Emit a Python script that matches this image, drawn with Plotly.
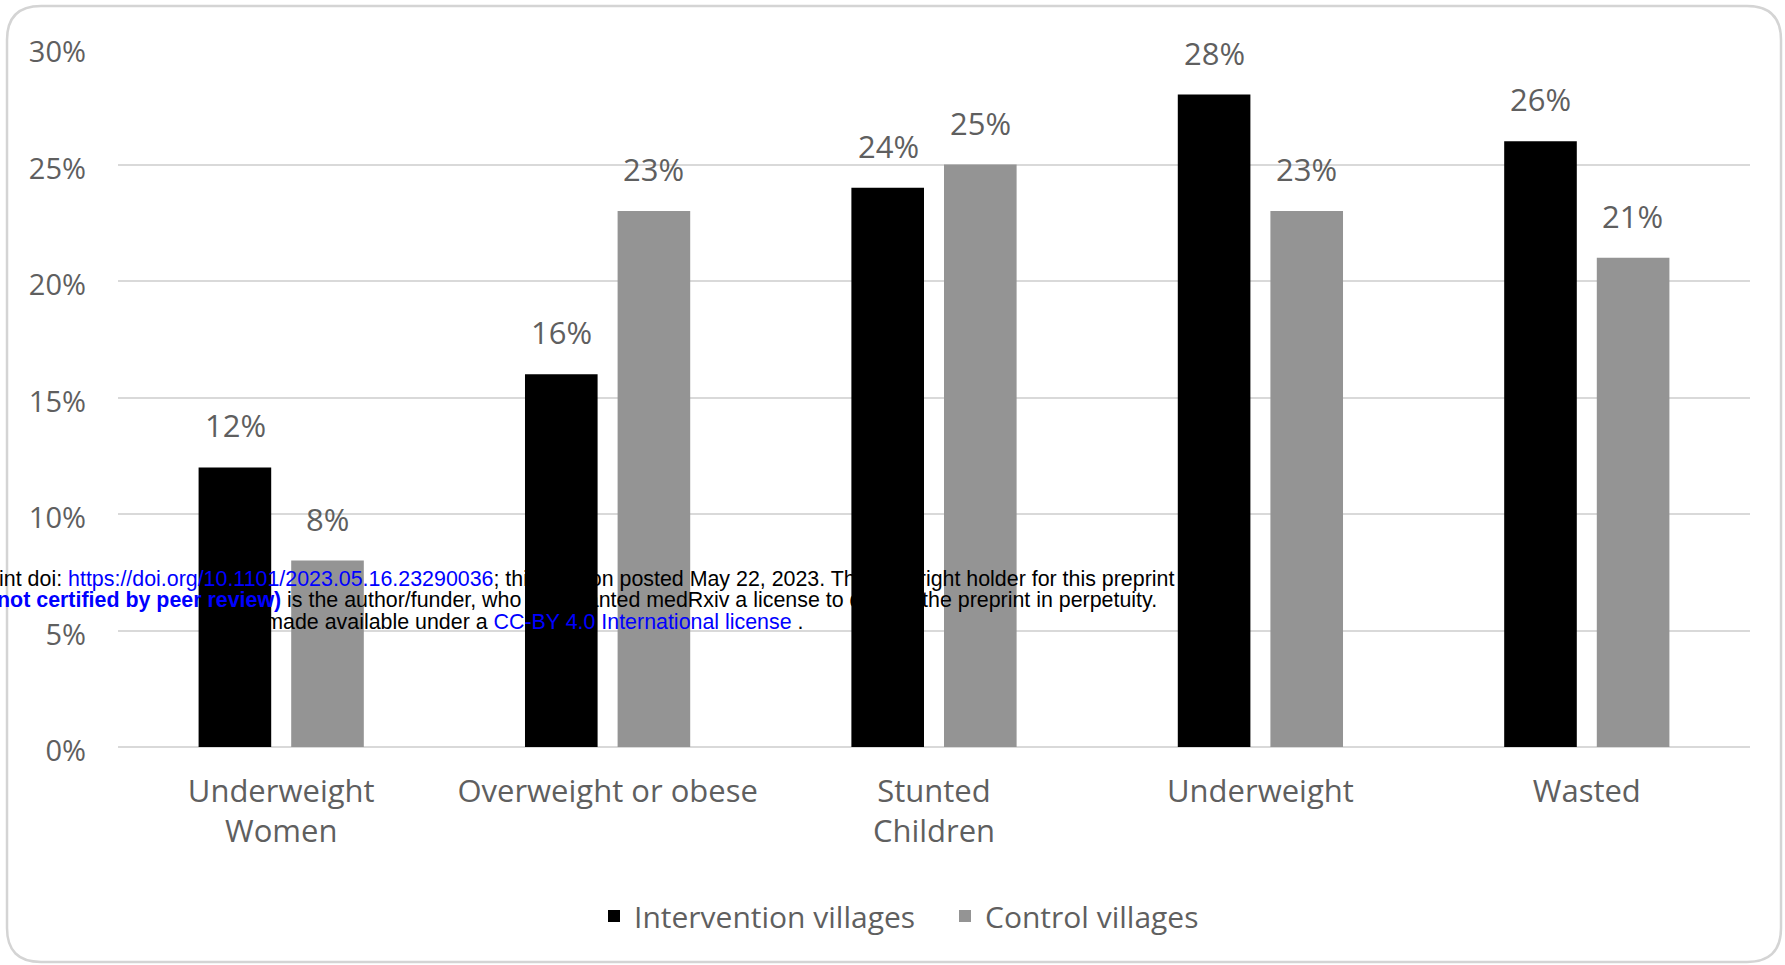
import plotly.graph_objects as go

# chart values
categories = ["Underweight<br>Women", "Overweight or obese", "Stunted<br>Children", "Underweight", "Wasted"]
intervention = [12, 16, 24, 28, 26]
control = [8, 23, 25, 23, 21]
series_names = ["Intervention villages", "Control villages"]
y_ticks = [0, 5, 10, 15, 20, 25, 30]
y_tick_labels = ["0%", "5%", "10%", "15%", "20%", "25%", "30%"]

W, H = 1785, 965
L, R, T, B = 118, 35, 48, 218
PW, PH = W - L - R, H - T - B
TXT = "#5f5f5f"
GRID = "#d9d9d9"


def px_x(p):
    return (p - L) / PW


def px_y(p):
    return (H - B - p) / PH


fig = go.Figure()
fig.add_trace(go.Bar(x=categories, y=intervention, name=series_names[0],
                     marker=dict(color="#000000", line=dict(width=0))))
fig.add_trace(go.Bar(x=categories, y=control, name=series_names[1],
                     marker=dict(color="#949494", line=dict(width=0))))

# value labels above bars
for vals, shift in [(intervention, -46), (control, 46)]:
    for c, v in zip(categories, vals):
        fig.add_annotation(x=c, y=v, xref="x", yref="y", text=f"{v}%", showarrow=False,
                           xshift=shift, yshift=42, yanchor="middle",
                           font=dict(size=31, color=TXT))

# rounded border around the chart
x0, y0, x1, y1, r = 7, 6, 1781, 962, 34
pts = [
    ("M", x0 + r, y0), ("L", x1 - r, y0), ("Q", x1, y0, x1, y0 + r),
    ("L", x1, y1 - r), ("Q", x1, y1, x1 - r, y1), ("L", x0 + r, y1),
    ("Q", x0, y1, x0, y1 - r), ("L", x0, y0 + r), ("Q", x0, y0, x0 + r, y0),
]
path = ""
for p in pts:
    cmd, coords = p[0], p[1:]
    xy = [f"{px_x(coords[i]):.5f},{px_y(coords[i + 1]):.5f}" for i in range(0, len(coords), 2)]
    path += cmd + " ".join(xy) + " "
path += "Z"
fig.add_shape(type="path", path=path, xref="paper", yref="paper",
              line=dict(color="#d4d4d4", width=2.5), layer="below")

# medRxiv watermark overlay
blue = "#0000ff"
wm = [
    ('medRxiv preprint doi: <span style="color:%s">https://doi.org/10.1101/2023.05.16.23290036</span>; '
     'this version posted May 22, 2023. The copyright holder for this preprint' % blue, 1176, 579),
    ('<b><span style="color:%s">(which was not certified by peer review)</span></b> is the author/funder, '
     'who has granted medRxiv a license to display the preprint in perpetuity.' % blue, 1159, 600),
    ('It is made available under a <span style="color:%s">CC-BY 4.0 International license</span> .' % blue, 806, 622),
]
for text, xr, yc in wm:
    fig.add_annotation(x=px_x(xr), y=px_y(yc), xref="paper", yref="paper", text=text,
                       showarrow=False, xanchor="right", yanchor="middle",
                       font=dict(family="Liberation Sans, Arial", size=21.4, color="#000000"))

fig.update_layout(
    width=W, height=H,
    margin=dict(l=L, r=R, t=T, b=B, autoexpand=False),
    paper_bgcolor="white", plot_bgcolor="white",
    font=dict(family="Open Sans, Noto Sans, sans-serif", color=TXT),
    barmode="group", bargap=0.4325, bargroupgap=0.216,
    showlegend=True,
    legend=dict(orientation="h", x=px_x(594), y=px_y(916), xanchor="left", yanchor="middle",
                font=dict(size=30, color=TXT), traceorder="normal", entrywidth=306),
)
fig.update_xaxes(showgrid=False, showline=False, ticks="", tickfont=dict(size=31, color=TXT),
                 ticklabelstandoff=23)
fig.update_yaxes(range=[0, 30], tickvals=y_ticks, ticktext=y_tick_labels, showgrid=True,
                 gridcolor=GRID, gridwidth=2, zeroline=True, zerolinecolor=GRID, zerolinewidth=2,
                 showline=False, ticks="", tickfont=dict(size=29, color=TXT), ticklabelstandoff=31,
                 ticklabelshift=4)

fig.write_html("out.html", config={"displayModeBar": False},
               post_script="document.body.style.margin='0';document.body.style.overflow='hidden';")
